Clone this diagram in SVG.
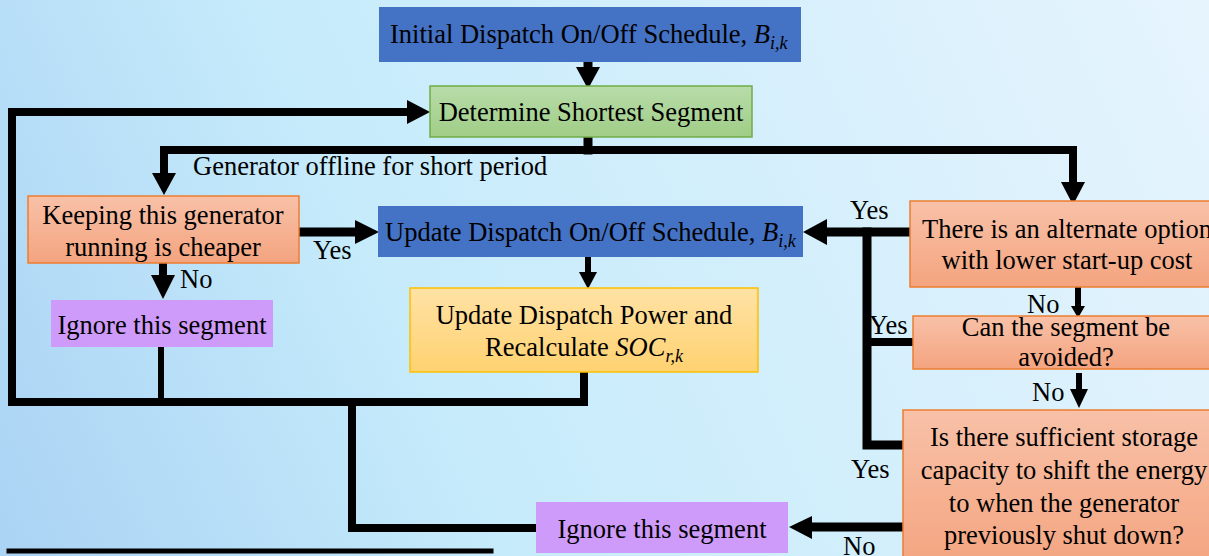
<svg xmlns="http://www.w3.org/2000/svg" width="1209" height="556" viewBox="0 0 1209 556" font-family="Liberation Serif, Times New Roman, Times, serif">
<defs>
<linearGradient id="bg" x1="0" y1="556" x2="1209" y2="0" gradientUnits="userSpaceOnUse">
<stop offset="0" stop-color="#aad3f4"/>
<stop offset="0.35" stop-color="#c6ebfb"/>
<stop offset="1" stop-color="#e6f4fd"/>
</linearGradient>
<linearGradient id="gOr" x1="0" y1="0" x2="0" y2="1">
<stop offset="0" stop-color="#f8c1a8"/>
<stop offset="1" stop-color="#f4a47f"/>
</linearGradient>
<linearGradient id="gGr" x1="0" y1="0" x2="0" y2="1">
<stop offset="0" stop-color="#b9dcaa"/>
<stop offset="1" stop-color="#9fcd86"/>
</linearGradient>
<linearGradient id="gYe" x1="0" y1="0" x2="0" y2="1">
<stop offset="0" stop-color="#ffe2a5"/>
<stop offset="1" stop-color="#ffd271"/>
</linearGradient>
<style>
text{font-family:'Liberation Serif','Times New Roman',Times,serif;font-size:26.5px;fill:#000}
.c{text-anchor:middle}
.sub{font-style:italic;font-size:18px}
.it{font-style:italic}
.blue{fill:#4472c4}
.or{fill:url(#gOr);stroke:#ed7d31;stroke-width:1.5}
.ln{fill:none;stroke:#000;stroke-linejoin:miter;stroke-linecap:square}
.ah{fill:#000}
</style>
</defs>
<rect width="1209" height="556" fill="url(#bg)"/>

<g id="connectors">
<path class="ln" d="M588,62V68" stroke-width="9"/>
<polygon class="ah" points="576,67 600,67 588,89"/>
<path class="ln" d="M588,137V150" stroke-width="9"/>
<path class="ln" d="M164,174V150H1073V183" stroke-width="8"/>
<polygon class="ah" points="152,173 176,173 164,195"/>
<polygon class="ah" points="1061,182 1085,182 1073,205"/>
<path class="ln" d="M12,402V112H408" stroke-width="8"/>
<polygon class="ah" points="407,100 407,124 430,112"/>
<path class="ln" d="M12,402H584V372" stroke-width="8"/>
<path class="ln" d="M161,347V402" stroke-width="6" stroke-linecap="butt"/>
<path class="ln" d="M352,402V528H536" stroke-width="8"/>
<path class="ln" d="M9,551H491" stroke-width="5" stroke-linecap="butt"/>
<path class="ln" d="M163,263V276" stroke-width="8" stroke-linecap="butt"/>
<polygon class="ah" points="151,275 175,275 163,299"/>
<path class="ln" d="M299,232H356" stroke-width="9" stroke-linecap="butt"/>
<polygon class="ah" points="355,220 355,244 379,232"/>
<path class="ln" d="M588,257V273" stroke-width="6" stroke-linecap="butt"/>
<polygon class="ah" points="579,272 597,272 588,289"/>
<path class="ln" d="M910,232H826" stroke-width="9" stroke-linecap="butt"/>
<polygon class="ah" points="827,219 827,245 803,232"/>
<path class="ln" d="M867,232V445H903" stroke-width="9"/>
<path class="ln" d="M867,342H913" stroke-width="8" stroke-linecap="butt"/>
<path class="ln" d="M1078,287V307" stroke-width="6" stroke-linecap="butt"/>
<polygon class="ah" points="1071,306 1085,306 1078,318"/>
<path class="ln" d="M1079,376V390" stroke-width="6" stroke-linecap="butt"/>
<polygon class="ah" points="1070,389 1088,389 1079,408"/>
<path class="ln" d="M903,527H811" stroke-width="9" stroke-linecap="butt"/>
<polygon class="ah" points="812,516 812,539 789,527"/>
<text x="193" y="175">Generator offline for short period</text>
<text x="180" y="288">No</text>
<text x="313" y="259">Yes</text>
<text x="850" y="219">Yes</text>
<text x="869" y="334">Yes</text>
<text x="1027" y="313">No</text>
<text x="1032" y="401">No</text>
<text x="851" y="478">Yes</text>
<text x="843" y="555">No</text>
</g>

<g id="n-initial">
<rect x="379" y="7" width="422" height="55" class="blue"/>
<text x="390" y="43">Initial Dispatch On/Off Schedule, <tspan class="it">B</tspan><tspan class="sub" dy="6">i,k</tspan></text>
</g>

<g id="n-determine">
<rect x="430" y="86" width="322" height="51" fill="url(#gGr)" stroke="#70ad47" stroke-width="1.5"/>
<text x="591" y="121" class="c">Determine Shortest Segment</text>
</g>

<g id="n-keeping">
<rect x="28" y="196" width="271" height="67" class="or"/>
<text x="163" y="224" class="c">Keeping this generator</text>
<text x="163" y="256" class="c">running is cheaper</text>
</g>

<g id="n-ignore1">
<rect x="51" y="300" width="222" height="47" fill="#cf9bfb"/>
<text x="162" y="334" class="c">Ignore this segment</text>
</g>

<g id="n-update">
<rect x="378" y="206" width="425" height="51" class="blue"/>
<text x="385" y="241">Update Dispatch On/Off Schedule, <tspan class="it">B</tspan><tspan class="sub" dy="6">i,k</tspan></text>
</g>

<g id="n-power">
<rect x="410" y="288" width="348" height="84" fill="url(#gYe)" stroke="#ffc000" stroke-width="1.5"/>
<text x="584" y="324" class="c">Update Dispatch Power and</text>
<text x="584" y="356" class="c">Recalculate <tspan class="it">SOC</tspan><tspan class="sub" dy="6">r,k</tspan></text>
</g>

<g id="n-alternate">
<rect x="910" y="201" width="314" height="86" class="or"/>
<text x="1067" y="238" class="c">There is an alternate option</text>
<text x="1067" y="269" class="c">with lower start-up cost</text>
</g>

<g id="n-avoid">
<rect x="913" y="316" width="306" height="53" class="or"/>
<text x="1066" y="336" class="c">Can the segment be</text>
<text x="1066" y="366" class="c">avoided?</text>
</g>

<g id="n-storage">
<rect x="903" y="410" width="322" height="160" class="or"/>
<text x="1064" y="446" class="c">Is there sufficient storage</text>
<text x="1064" y="479" class="c">capacity to shift the energy</text>
<text x="1064" y="512" class="c">to when the generator</text>
<text x="1064" y="544" class="c">previously shut down?</text>
</g>

<g id="n-ignore2">
<rect x="536" y="502" width="252" height="51" fill="#cf9bfb"/>
<text x="662" y="538" class="c">Ignore this segment</text>
</g>
</svg>
